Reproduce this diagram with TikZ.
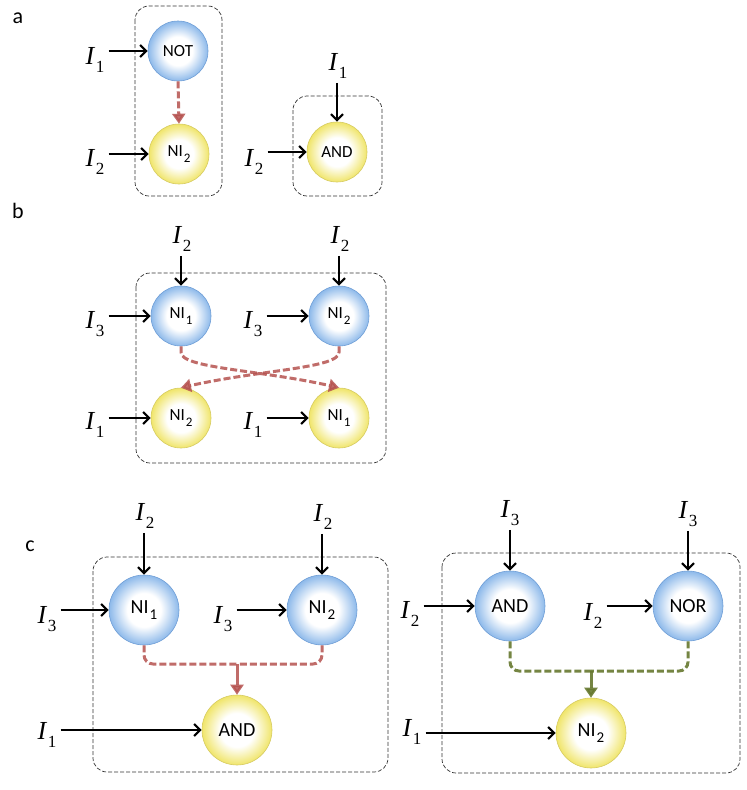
\documentclass[tikz,border=0pt]{standalone}
\usepackage{fontspec}
\setmainfont{Liberation Serif}
\newfontfamily\gatefont{Carlito}
\usetikzlibrary{arrows.meta}
\definecolor{bedge}{HTML}{8DB9EA}
\definecolor{bline}{HTML}{6F9ED6}
\definecolor{yedge}{HTML}{F0E56A}
\definecolor{yline}{HTML}{D6CB62}
\definecolor{redc}{HTML}{B5524F}
\definecolor{greenc}{HTML}{66782F}
\pgfdeclareradialshading{blueball}{\pgfpoint{0bp}{0bp}}{color(0bp)=(white); color(12bp)=(white); color(25bp)=(bedge); color(50bp)=(bedge)}
\pgfdeclareradialshading{yellowball}{\pgfpoint{0bp}{0bp}}{color(0bp)=(white); color(12bp)=(white); color(25bp)=(yedge); color(50bp)=(yedge)}
\newcommand\Ilab[1]{\textit{I}\kern0.5pt\raisebox{-0.33em}{\fontsize{17}{17}\selectfont #1}}
\newcommand\NIs[1]{NI\kern1pt\raisebox{-0.3em}{\fontsize{13}{13}\selectfont #1}}
\newcommand\NIb[1]{NI\kern1pt\raisebox{-0.3em}{\fontsize{15}{15}\selectfont #1}}
\tikzset{
  gateB/.style={circle, draw=bline, line width=0.6pt, shading=blueball, minimum size=60pt, inner sep=0pt, font=\gatefont\fontsize{17}{17}\selectfont},
  gateY/.style={circle, draw=yline, line width=0.6pt, shading=yellowball, minimum size=60pt, inner sep=0pt, font=\gatefont\fontsize{17}{17}\selectfont},
  biggate/.style={minimum size=70pt, font=\gatefont\fontsize{20}{20}\selectfont},
  inlab/.style={font=\fontsize{26}{26}\selectfont, inner sep=1pt, anchor=base},
  inarr/.style={line width=2.2pt, shorten <=3pt, -{Straight Barb[length=6pt,width=12pt]}},
  dbox/.style={draw=black!80, line width=0.7pt, dash pattern=on 4pt off 2pt, rounded corners=14pt},
  reddash/.style={draw=redc, opacity=0.85, line width=3pt, dash pattern=on 7pt off 3pt},
  greendash/.style={draw=greenc, opacity=0.9, line width=3pt, dash pattern=on 7pt off 3pt},
  tipr/.style={-{Triangle[length=10pt,width=13pt]}},
  plab/.style={font=\gatefont\fontsize{22}{22}\selectfont, inner sep=0pt}
}
\begin{document}
\begin{tikzpicture}[x=1pt,y=-1pt]
\useasboundingbox (0,0) rectangle (747,790);
% ---------------- panel a
\node[plab] (la) at (18,18) {a};
\draw[dbox] (135,6) rectangle (222,196);
\draw[dbox] (293,96) rectangle (382,196);
\node[gateB] (NOTa) at (178,51) {NOT};
\node[gateY] (NIa) at (179,154) {\NIs{2}};
\node[gateY] (ANDa) at (337,152) {AND};
\node[inlab] (I1a) at (95,64) {\Ilab{1}};
\node[inlab] (I2a) at (95,166) {\Ilab{2}};
\node[inlab] (I1at) at (338,70) {\Ilab{1}};
\node[inlab] (I2ab) at (254,166) {\Ilab{2}};
\draw[inarr] (I1a.east |- NOTa.west) -- (NOTa.west);
\draw[inarr] (I2a.east |- NIa.west) -- (NIa.west);
\draw[inarr] (ANDa.north |- I1at.south) -- (ANDa.north);
\draw[inarr] (I2ab.east |- ANDa.west) -- (ANDa.west);
\draw[reddash, tipr] (NOTa.south) -- (NIa.north);
% ---------------- panel b
\node[plab] (lb) at (18,211) {b};
\draw[dbox] (136,273) rectangle (386,463);
\node[gateB] (NIb1) at (181,316) {\NIs{1}};
\node[gateB] (NIb2) at (339,316) {\NIs{2}};
\node[gateY] (NIb3) at (181,418) {\NIs{2}};
\node[gateY] (NIb4) at (339,418) {\NIs{1}};
\node[inlab] (I2b1) at (182,243) {\Ilab{2}};
\node[inlab] (I2b2) at (340,243) {\Ilab{2}};
\node[inlab] (I3b1) at (95,328) {\Ilab{3}};
\node[inlab] (I3b2) at (253,328) {\Ilab{3}};
\node[inlab] (I1b1) at (95,429) {\Ilab{1}};
\node[inlab] (I1b2) at (253,429) {\Ilab{1}};
\draw[inarr] (NIb1.north |- I2b1.south) -- (NIb1.north);
\draw[inarr] (NIb2.north |- I2b2.south) -- (NIb2.north);
\draw[inarr] (I3b1.east |- NIb1.west) -- (NIb1.west);
\draw[inarr] (I3b2.east |- NIb2.west) -- (NIb2.west);
\draw[inarr] (I1b1.east |- NIb3.west) -- (NIb3.west);
\draw[inarr] (I1b2.east |- NIb4.west) -- (NIb4.west);
\draw[reddash, tipr] (NIb1.south) -- ++(0,6) .. controls +(0,16) and +(-80,-18) .. (NIb4.north);
\draw[reddash, tipr] (NIb2.south) -- ++(0,6) .. controls +(0,16) and +(80,-18) .. (NIb3.north);
% ---------------- panel c left
\node[plab] (lc) at (30,546) {c};
\draw[dbox] (93,557) rectangle (388,772);
\node[gateB, biggate] (NIc1) at (144,610) {\NIb{1}};
\node[gateB, biggate] (NIc2) at (322,610) {\NIb{2}};
\node[gateY, biggate] (ANDc) at (237,730) {AND};
\node[inlab] (I2c1) at (145,520) {\Ilab{2}};
\node[inlab] (I2c2) at (323,521) {\Ilab{2}};
\node[inlab] (I3c1) at (47,623) {\Ilab{3}};
\node[inlab] (I3c2) at (223,623) {\Ilab{3}};
\node[inlab] (I1c) at (47,739) {\Ilab{1}};
\draw[inarr] (NIc1.north |- I2c1.south) -- (NIc1.north);
\draw[inarr] (NIc2.north |- I2c2.south) -- (NIc2.north);
\draw[inarr] (I3c1.east |- NIc1.west) -- (NIc1.west);
\draw[inarr] (I3c2.east |- NIc2.west) -- (NIc2.west);
\draw[inarr] (I1c.east |- ANDc.west) -- (ANDc.west);
\coordinate (jc) at (237,664);
\draw[reddash, rounded corners=9pt] (NIc1.south) |- (jc);
\draw[reddash, rounded corners=9pt] (NIc2.south) |- (jc);
\draw[draw=redc, opacity=0.85, line width=3pt, tipr] (jc) -- (ANDc.north);
% ---------------- panel c right
\draw[dbox] (442,553) rectangle (740,773);
\node[gateB, biggate] (ANDc2) at (510,606) {AND};
\node[gateB, biggate] (NORc) at (688,606) {NOR};
\node[gateY, biggate] (NIc3) at (591,733) {\NIb{2}};
\node[inlab] (I3c3) at (510,517) {\Ilab{3}};
\node[inlab] (I3c4) at (688,518) {\Ilab{3}};
\node[inlab] (I2c3) at (410,618) {\Ilab{2}};
\node[inlab] (I2c4) at (593,620) {\Ilab{2}};
\node[inlab] (I1c2) at (412,736) {\Ilab{1}};
\draw[inarr] (ANDc2.north |- I3c3.south) -- (ANDc2.north);
\draw[inarr] (NORc.north |- I3c4.south) -- (NORc.north);
\draw[inarr] (I2c3.east |- ANDc2.west) -- (ANDc2.west);
\draw[inarr] (I2c4.east |- NORc.west) -- (NORc.west);
\draw[inarr] (I1c2.east |- NIc3.west) -- (NIc3.west);
\coordinate (jc2) at (591,671);
\draw[greendash, rounded corners=9pt] (ANDc2.south) |- (jc2);
\draw[greendash, rounded corners=9pt] (NORc.south) |- (jc2);
\draw[draw=greenc, opacity=0.9, line width=3pt, tipr] (jc2) -- (NIc3.north);
\end{tikzpicture}
\end{document}
